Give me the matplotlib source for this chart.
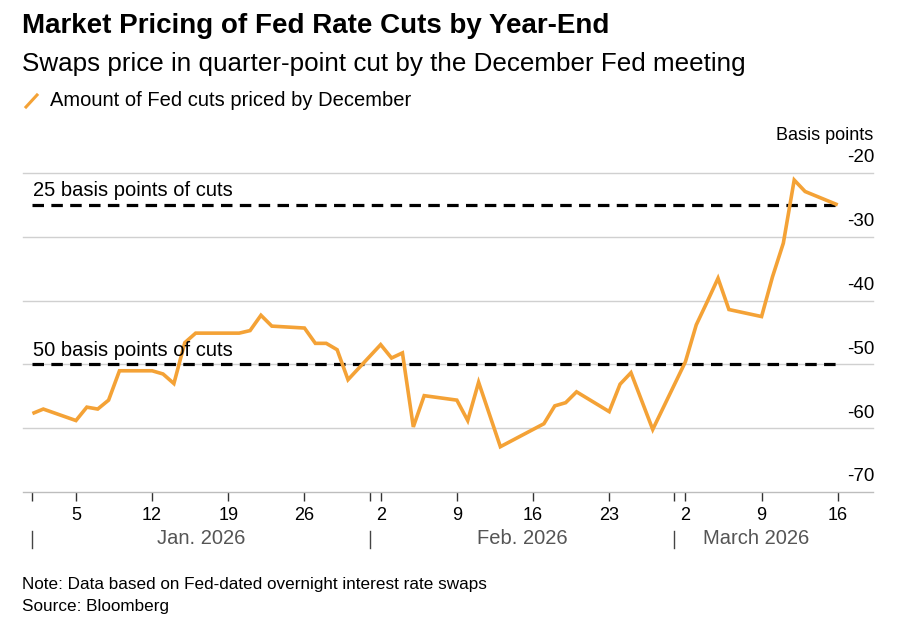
import matplotlib
matplotlib.use("Agg")
import matplotlib.pyplot as plt
import matplotlib.dates as mdates
import datetime as dt

# ---------------- data ----------------
dates = [
    "2026-01-01", "2026-01-02", "2026-01-05", "2026-01-06", "2026-01-07", "2026-01-08",
    "2026-01-09", "2026-01-12", "2026-01-13", "2026-01-14", "2026-01-15", "2026-01-16",
    "2026-01-20", "2026-01-21", "2026-01-22", "2026-01-23", "2026-01-26", "2026-01-27",
    "2026-01-28", "2026-01-29", "2026-01-30", "2026-02-02", "2026-02-03", "2026-02-04",
    "2026-02-05", "2026-02-06", "2026-02-09", "2026-02-10", "2026-02-11", "2026-02-13",
    "2026-02-17", "2026-02-18", "2026-02-19", "2026-02-20", "2026-02-23", "2026-02-24",
    "2026-02-25", "2026-02-27", "2026-03-02", "2026-03-03", "2026-03-04", "2026-03-05",
    "2026-03-06", "2026-03-09", "2026-03-10", "2026-03-11", "2026-03-12", "2026-03-13",
    "2026-03-16",
]
cuts_priced = [
    -57.7, -57.0, -58.8, -56.7, -57.0, -55.6,
    -51.0, -51.0, -51.5, -53.0, -46.6, -45.1,
    -45.1, -44.7, -42.3, -44.0, -44.3, -46.7,
    -46.7, -47.7, -52.4, -46.9, -49.0, -48.2,
    -59.8, -54.9, -55.6, -58.8, -52.8, -62.9,
    -59.3, -56.5, -56.0, -54.3, -57.4, -53.1,
    -51.3, -60.2, -49.6, -43.8, -40.2, -36.5,
    -41.4, -42.5, -36.3, -31.0, -21.1, -22.9,
    -25.0,
]
ref_levels = [-25, -50]
ref_labels = ["25 basis points of cuts", "50 basis points of cuts"]
y_ticks = [-20, -30, -40, -50, -60, -70]
x_tick_dates = ["2026-01-05", "2026-01-12", "2026-01-19", "2026-01-26", "2026-02-02",
                "2026-02-09", "2026-02-16", "2026-02-23", "2026-03-02", "2026-03-09",
                "2026-03-16"]
month_starts = ["2026-01-01", "2026-02-01", "2026-03-01"]
month_labels = ["Jan. 2026", "Feb. 2026", "March 2026"]
month_ends = ["2026-02-01", "2026-03-01", "2026-03-16"]

title = "Market Pricing of Fed Rate Cuts by Year-End"
subtitle = "Swaps price in quarter-point cut by the December Fed meeting"
legend_label = "Amount of Fed cuts priced by December"
note = "Note: Data based on Fed-dated overnight interest rate swaps"
source = "Source: Bloomberg"

# ---------------- style ----------------
plt.rcParams["font.family"] = ["Liberation Sans", "DejaVu Sans"]
ORANGE = "#F4A236"
GRID = "#d0d0d0"

W, H = 908, 624
fig = plt.figure(figsize=(W / 100, H / 100), dpi=100)
fig.patch.set_facecolor("white")


def fx(px):
    return px / W


def fy(py):
    return 1 - py / H


def to_num(s):
    return mdates.date2num(dt.date.fromisoformat(s))


ax_left, ax_right, ax_top, ax_bot = 23, 873, 173, 492
ax = fig.add_axes([fx(ax_left), fy(ax_bot), fx(ax_right - ax_left), (ax_bot - ax_top) / H])
ax.set_facecolor("none")

d = [to_num(s) for s in dates]
x0 = to_num("2026-01-01") - 0.865
x1 = to_num("2026-03-16") + 3.24
ax.set_xlim(x0, x1)
ax.set_ylim(-70, -20)

# grid lines
for v in y_ticks[:-1]:
    ax.axhline(v, color=GRID, lw=1.0, zorder=1, clip_on=False)

# reference dashed lines
for lvl, lab in zip(ref_levels, ref_labels):
    ax.plot([d[0], d[-1]], [lvl, lvl], color="black", lw=2.3, ls=(0, (3.6, 2.3)),
            zorder=2, dash_capstyle="butt")
    ax.annotate(lab, xy=(d[0], lvl), xytext=(1, 14), textcoords="offset pixels",
                ha="left", va="center", fontsize=14.5, color="black", zorder=4)

# main series
ax.plot(d, cuts_priced, color=ORANGE, lw=2.6, zorder=3, solid_joinstyle="miter",
        solid_capstyle="butt")

# y tick labels (right, above gridlines)
ax.set_yticks([])
for v in y_ticks:
    ax.annotate(f"{v}", xy=(1, v), xycoords=("axes fraction", "data"),
                xytext=(1, 15), textcoords="offset pixels", ha="right", va="center",
                fontsize=13.5, color="black")
fig.text(fx(873), fy(135), "Basis points", ha="right", va="center", fontsize=13,
         color="black")

# spines
for s in ["top", "right", "left"]:
    ax.spines[s].set_visible(False)
ax.spines["bottom"].set_color("#bdbdbd")
ax.spines["bottom"].set_linewidth(1.0)

# x ticks
xt = [to_num(s) for s in x_tick_dates]
ax.set_xticks(xt)
ax.set_xticklabels([str(dt.date.fromisoformat(s).day) for s in x_tick_dates])
ms = [to_num(s) for s in month_starts]
ax.set_xticks(ms, minor=True)
ax.tick_params(axis="x", which="both", length=6.5, width=1.0, color="#333333",
               direction="out", pad=4, labelsize=13, labelcolor="black")

# month labels
me = [to_num(s) for s in month_ends]
for start, end, lab in zip(ms, me, month_labels):
    ax.annotate(lab, xy=((start + end) / 2, 0), xycoords=("data", "axes fraction"),
                xytext=(0, -(538 - ax_bot)), textcoords="offset pixels",
                ha="center", va="center", fontsize=14.5, color="#555555")

# month separators
for start in ms:
    px = ax.transData.transform((start, -70))[0]
    fig.add_artist(plt.Line2D([px / W, px / W], [fy(531), fy(548)], color="#444444", lw=1.0))

# titles
fig.text(fx(22), fy(26), title, ha="left", va="center", fontsize=20, fontweight="bold",
         color="black")
fig.text(fx(22), fy(64), subtitle, ha="left", va="center", fontsize=18.7, color="black")

# legend
fig.add_artist(plt.Line2D([fx(26), fx(37)], [fy(107), fy(95)], color=ORANGE, lw=2.2))
fig.text(fx(50), fy(101), legend_label, ha="left", va="center", fontsize=14.5, color="black")

# footer
fig.text(fx(22), fy(585), note, ha="left", va="center", fontsize=12.3, color="black")
fig.text(fx(22), fy(606), source, ha="left", va="center", fontsize=12.3, color="black")

fig.savefig("out.png", dpi=100, facecolor="white")
